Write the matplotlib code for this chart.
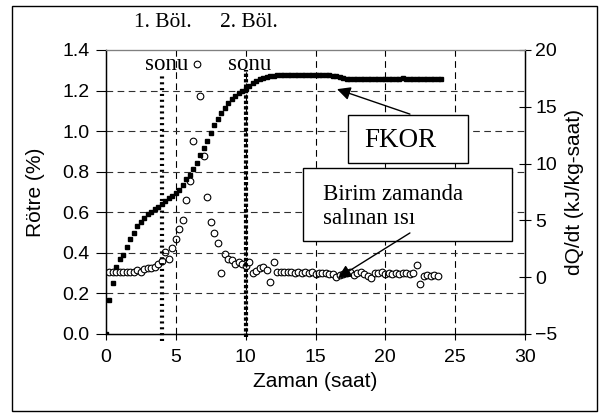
import numpy as np
import matplotlib
matplotlib.use("Agg")
import matplotlib.pyplot as plt
from matplotlib.patches import Rectangle

# time grid (saat), one sample every quarter hour
zaman = np.arange(0, 24.25, 0.25)

# shrinkage FKOR (%), left axis
rotre = [0.00, 0.17, 0.25, 0.33, 0.37, 0.39, 0.43, 0.47, 0.50, 0.53,
         0.55, 0.57, 0.59, 0.60, 0.615, 0.627, 0.64, 0.655, 0.67, 0.68,
         0.695, 0.71, 0.735, 0.765, 0.785, 0.815, 0.845, 0.88, 0.915, 0.95,
         0.99, 1.03, 1.06, 1.09, 1.115, 1.14, 1.16, 1.175, 1.19, 1.20,
         1.21, 1.225, 1.237, 1.247, 1.255, 1.26, 1.265, 1.27, 1.273, 1.275,
         1.276, 1.276, 1.276, 1.276, 1.276, 1.276, 1.276, 1.276, 1.276, 1.276,
         1.276, 1.276, 1.276, 1.276, 1.276,
         1.272, 1.27, 1.265, 1.262, 1.259, 1.257, 1.256,
         1.255, 1.255, 1.255, 1.255, 1.255, 1.255, 1.255, 1.255, 1.255, 1.255,
         1.255, 1.255, 1.258, 1.26, 1.255, 1.255, 1.255, 1.255, 1.255, 1.255,
         1.255, 1.255, 1.255, 1.255, 1.255]

# heat release rate dQ/dt (kJ/kg-saat), right axis, t = 0.25 .. 23.75
isi = [0.47, 0.43, 0.47, 0.47, 0.47, 0.47, 0.47, 0.47,
       0.67, 0.47, 0.76, 0.82,
       0.82, 0.91, 1.2, 1.45,
       2.24, 1.57, 2.54, 3.32,
       4.2, 5.0, 6.8, 8.45,
       12.0, 18.8, 15.95, 10.65,
       7.07, 4.9, 3.85, 2.98,
       0.33, 2.05, 1.6, 1.5,
       1.14, 1.38, 1.2, 1.0,
       1.37, 0.4, 0.55, 0.8,
       0.91, 0.63, -0.41, 1.3,
       0.45, 0.5, 0.45, 0.42,
       0.45, 0.38, 0.45, 0.4,
       0.45, 0.35, 0.42, 0.3,
       0.4, 0.35, 0.38, 0.3,
       0.25, 0.05, 0.15, 0.3,
       0.4, 0.45, 0.2, 0.35,
       0.45, 0.3, 0.1, -0.1,
       0.35, 0.4, 0.45, 0.3,
       0.4, 0.25, 0.35, 0.3,
       0.35, 0.35, 0.3, 0.4,
       1.1, -0.6, 0.1, 0.2,
       0.1, 0.15, 0.1]
zaman_isi = zaman[1:-1]

bolum_sonu = [4, 10]

serif = ['Liberation Serif', 'DejaVu Serif']
plt.rcParams['font.family'] = ['Liberation Sans', 'DejaVu Sans']

fig = plt.figure(figsize=(6.03, 4.17), dpi=100)
ax = fig.add_axes([106/603, 83/417, 419/603, 284/417])
ax2 = ax.twinx()

# figure frame
fig.patches.append(Rectangle((12/603, 6/417), 585/603, 405/417, transform=fig.transFigure,
                             fill=False, edgecolor='black', linewidth=1.0))

ax.set_xlim(0, 30)
ax.set_ylim(0, 1.4)
ax2.set_ylim(-5, 20)
ax.set_xticks([0, 5, 10, 15, 20, 25, 30])
ax.set_yticks(np.arange(0, 1.41, 0.2))
ax.set_yticklabels(['%.1f' % v for v in np.arange(0, 1.41, 0.2)])
ax2.set_yticks([-5, 0, 5, 10, 15, 20])

for v in [5, 10, 15, 20, 25]:
    ax.axvline(v, color='black', linestyle=(0, (6, 4)), linewidth=0.8, zorder=0)
for v in [0.2, 0.4, 0.6, 0.8, 1.0, 1.2]:
    ax.axhline(v, color='#303030', linestyle=(0, (6, 4)), linewidth=0.8, zorder=0)

ax.tick_params(axis='x', labelsize=14, direction='out', length=4, width=0.8, pad=7)
ax.tick_params(axis='y', labelsize=14, direction='out', length=7, width=0.8, pad=5)
ax2.tick_params(axis='y', labelsize=14, direction='inout', length=8, width=0.8)
for s in ['left', 'bottom']:
    ax.spines[s].set_linewidth(1.0)
ax.spines['top'].set_color('#808080')
ax2.spines['right'].set_linewidth(1.0)

ax.set_xlabel('Zaman (saat)', fontsize=15, labelpad=4)
ax.set_ylabel('Rötre (%)', fontsize=15, labelpad=12)
ax2.set_ylabel('dQ/dt (kJ/kg-saat)', fontsize=15, labelpad=5)

ax.plot(zaman, rotre, linestyle='none', marker='s', markersize=3.4, color='black', zorder=3)
ax2.plot(zaman_isi, isi, linestyle='none', marker='o', markersize=4.8,
         markerfacecolor='white', markeredgecolor='black', markeredgewidth=0.8, zorder=3)

ax.set_zorder(ax2.get_zorder() + 1)
ax.patch.set_visible(False)
ax2.patch.set_visible(False)

# end-of-stage markers
ax.plot([bolum_sonu[0], bolum_sonu[0]], [-0.035, 1.276], color='black', linewidth=3,
        linestyle=(0, (0.5, 0.9)), clip_on=False, zorder=4)
ax.plot([bolum_sonu[1], bolum_sonu[1]], [-0.015, 1.30], color='black', linewidth=3,
        linestyle=(0, (0.8, 0.5)), clip_on=False, zorder=4)
ax.text(4.1, 1.538, '1. Böl.', family=serif, fontsize=15.5, ha='center', va='center', clip_on=False)
ax.text(10.2, 1.538, '2. Böl.', family=serif, fontsize=15.5, ha='center', va='center', clip_on=False)
ax.text(4.37, 1.33, 'sonu', family=serif, fontsize=16.5, ha='center', va='center', zorder=5)
ax.text(10.3, 1.33, 'sonu', family=serif, fontsize=16.5, ha='center', va='center', zorder=5)

# annotation boxes
ax.add_patch(Rectangle((17.33, 0.843), 8.59, 0.236, facecolor='white', edgecolor='black',
                       linewidth=1.0, zorder=6))
ax.text(21.1, 0.956, 'FKOR', family=serif, fontsize=19.5, ha='center', va='center', zorder=7)
ax.add_patch(Rectangle((14.1, 0.458), 14.96, 0.36, facecolor='white', edgecolor='black',
                       linewidth=1.0, zorder=6))
ax.text(15.53, 0.628, 'Birim zamanda\nsalınan ısı', family=serif, fontsize=16.5, ha='left',
        va='center', linespacing=1.2, zorder=7)

arrow = dict(arrowstyle='-|>', color='black', linewidth=1.0, mutation_scale=20, shrinkA=0, shrinkB=0)
ax.annotate('', xy=(16.54, 1.207), xytext=(21.76, 1.084), arrowprops=arrow, zorder=8)
ax.annotate('', xy=(16.6, 0.276), xytext=(21.76, 0.498), arrowprops=arrow, zorder=8)

fig.savefig('out.png', dpi=100)
